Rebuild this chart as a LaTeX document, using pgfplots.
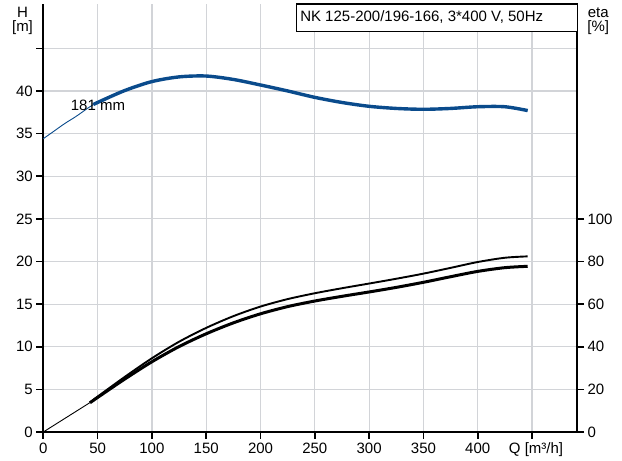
\documentclass[border=0pt]{standalone}
\usepackage{fontspec}
\setmainfont{Liberation Sans}
\usepackage{pgfplots}
\pgfplotsset{compat=1.18}
\definecolor{hblue}{RGB}{10,75,140}
\definecolor{gridgray}{RGB}{210,212,216}
\newcommand{\lbl}{\fontsize{15}{17}\selectfont}
\begin{document}
\begin{tikzpicture}
\useasboundingbox (-43.3pt,-29pt) rectangle (578.7pt,432pt);
\pgfplotsset{
  every axis/.append style={
    scale only axis, width=533.7pt, height=428pt,
    xmin=0, xmax=491.4,
    font=\lbl,
    tick label style={font=\lbl},
    /pgf/number format/assume math mode=true,
    major tick length=7pt,
    tick align=outside,
    tick style={line width=1.6pt, black},
    axis line style={line width=2.2pt, -},
    clip=false,
  }
}
% left axis: head H [m]
\begin{axis}[
  axis x line*=bottom, axis y line*=left,
  ymin=0, ymax=50.2,
  xtick={0,50,...,450},
  xticklabels={0,50,100,150,200,250,300,350,400,\hspace*{8pt}Q [m³/h]},
  ytick={0,5,...,45},
  yticklabels={0,5,10,15,20,25,30,35,40,},
  grid=major, grid style={gridgray, line width=1.2pt},
]
% thin part of the 181 mm curve
\addplot[hblue, line width=0.9pt, smooth] coordinates {
  (0,34.4)(10,35.3)(20,36.2)(30,37.0)(40,37.9)(46,38.4)
};
% operating range
\addplot[hblue, line width=3.4pt, smooth] coordinates {
  (46,38.4)(50,38.65)(75,40.05)(100,41.1)(125,41.65)(150,41.75)
  (175,41.35)(200,40.7)(225,40.0)(250,39.25)(275,38.65)(300,38.2)
  (325,37.95)(350,37.85)(375,37.95)(400,38.15)(425,38.15)(446,37.7)
};
\node[anchor=base west, inner sep=0] at (axis cs:25.2,37.65) {181 mm};
\node[anchor=base, inner sep=0, xshift=-20.8pt, yshift=-14pt] at (rel axis cs:0,1) {H};
\node[anchor=base, inner sep=0, xshift=-20.8pt, yshift=-28pt] at (rel axis cs:0,1) {[m]};
\end{axis}
% right axis: efficiency eta [%]
\begin{axis}[
  axis y line*=right, axis x line=none,
  ymin=0, ymax=200.8,
  ytick={0,20,...,100},
]
\addplot[black, line width=0.9pt] coordinates {(0,0)(43,13.8)};
\addplot[black, line width=1.9pt, smooth] coordinates {
  (43,13.9)(50,16.6)(75,25.85)(100,34.6)(125,42.35)(150,48.85)(175,54.35)
  (200,58.85)(225,62.35)(250,65.1)(275,67.45)(300,69.65)(325,71.9)(350,74.3)
  (375,77.0)(400,79.75)(425,81.75)(446,82.4)
};
\addplot[black, line width=3.0pt, smooth] coordinates {
  (43,13.7)(50,16.2)(75,24.83)(100,32.95)(125,40.08)(150,46.08)(175,51.2)
  (200,55.45)(225,58.83)(250,61.45)(275,63.65)(300,65.7)(325,67.85)(350,70.23)
  (375,72.85)(400,75.35)(425,77.1)(446,77.73)
};
\draw[black, line width=1pt, fill=white]
  (rel axis cs:0.4735,0.9346) rectangle (rel axis cs:1,1);
\draw[black, line width=2pt] (rel axis cs:0.4735,1) -- (rel axis cs:1,1);
\node[anchor=base west, inner sep=0] at (axis cs:236.4,192.8)
  {NK 125-200/196-166, 3*400 V, 50Hz};
\node[anchor=base, inner sep=0, xshift=21.3pt, yshift=-14pt] at (rel axis cs:1,1) {eta};
\node[anchor=base, inner sep=0, xshift=21.3pt, yshift=-28pt] at (rel axis cs:1,1) {[\%]};
\end{axis}
\end{tikzpicture}
\end{document}
